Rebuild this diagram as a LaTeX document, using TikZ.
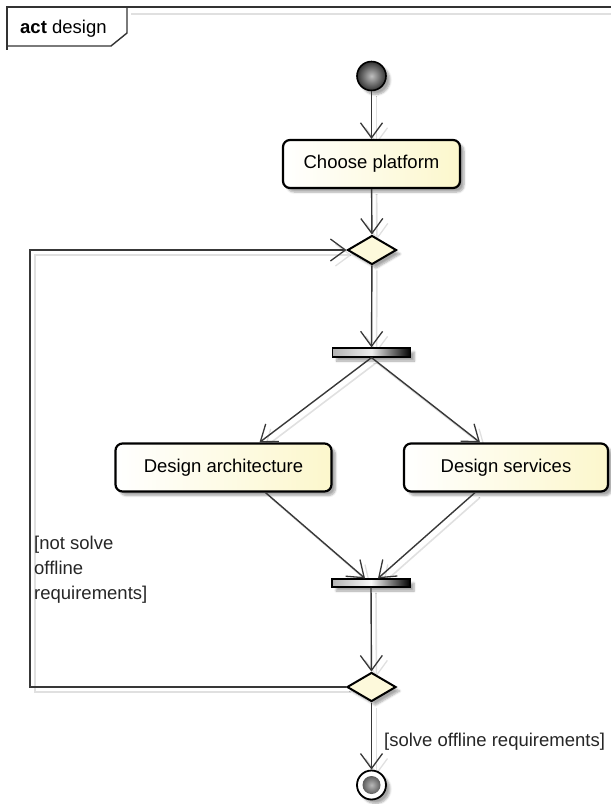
\documentclass[tikz,border=0pt]{standalone}
\usepackage{fontspec}
\setmainfont{Liberation Sans}
\usetikzlibrary{arrows.meta,shapes.geometric,shadows.blur,calc,backgrounds}
\definecolor{actfill}{HTML}{FCF7CC}
\definecolor{edgegray}{HTML}{383838}
\newcommand{\umlfont}{\fontsize{18.5}{25}\selectfont}
\begin{document}
\begin{tikzpicture}[x=1pt,y=-1pt,
  softshadow/.style={blur shadow={shadow xshift=4pt,shadow yshift=-4pt,shadow opacity=35,shadow blur steps=6}},
  action/.style={rectangle,rounded corners=7pt,draw=black,line width=2.2pt,
    left color=white,right color=actfill,minimum height=48pt,
    font=\umlfont,softshadow},
  decision/.style={diamond,draw=black,line width=2pt,fill=actfill!70,
    minimum width=49pt,minimum height=29pt,inner sep=0pt,softshadow},
  syncbar/.style={rectangle,draw=black,line width=1.2pt,inner sep=0pt,
    minimum width=78pt,minimum height=9pt,
    left color=gray!60,right color=black,middle color=gray!15,softshadow},
  initial/.style={circle,draw=black,line width=1.6pt,minimum size=29pt,inner sep=0pt,
    shading=radial,inner color=gray!50,outer color=black!80,softshadow},
  final/.style={circle,draw=black,line width=1.8pt,minimum size=29pt,inner sep=0pt,
    fill=white,softshadow,
    path picture={\shade[inner color=gray!55,outer color=black!85]
      (path picture bounding box.center) circle (9pt);}},
  tip/.tip={Straight Barb[length=15pt,width=22pt,line width=1.3pt]},
  flow/.style={draw=edgegray,line width=1.4pt,-tip},
  edgeshadow/.style={draw=black!12,line width=1.6pt,-tip,
    transform canvas={xshift=5pt,yshift=-5pt}},
  guard/.style={font=\umlfont,text=black!85,inner sep=0pt}
]
\useasboundingbox (0,0) rectangle (611,804);

% diagram frame with its name tab
\draw[black!12,line width=1.5pt] (131,14) -- (611,14);
\draw[black!80,line width=1.4pt] (611,7) -- (7,7) -- (7,50);
\draw[black!80,line width=1.4pt] (127,7) -- (127,33) -- (111,46) -- (7,46);
\node[anchor=west,font=\umlfont,inner sep=0pt] (title) at (20,29) {\textbf{act} design};

% activity nodes
\node[initial] (start) at (371.5,76) {};
\node[action,minimum width=177pt] (choose) at (371.5,164) {Choose platform};
\node[decision] (d1) at (372,250) {};
\node[syncbar] (fork) at (371.5,352.5) {};
\node[action,minimum width=216pt] (arch) at (223.5,467.5) {Design architecture};
\node[action,minimum width=204pt] (serv) at (506,467.5) {Design services};
\node[syncbar,minimum height=8pt,middle color=gray!5] (join) at (371,583) {};
\node[decision] (d2) at (371.5,687) {};
\node[final] (end) at (371.5,785) {};
\coordinate (loopx) at (30,0);

% faint shadows under the control flows
\begin{pgfonlayer}{background}
  \draw[edgeshadow] (start) -- (choose);
  \draw[edgeshadow] (choose) -- (d1);
  \draw[edgeshadow] (d1) -- (fork);
  \draw[edgeshadow] (fork.south) -- ($(arch.north)+(36,0)$);
  \draw[edgeshadow] (fork.south) -- ($(serv.north)+(-26,0)$);
  \draw[edgeshadow] ($(arch.south)+(42,0)$) -- ($(join.north)+(-6,0)$);
  \draw[edgeshadow] ($(serv.south)+(-31,0)$) -- ($(join.north)+(7,0)$);
  \draw[edgeshadow] (join) -- (d2);
  \draw[edgeshadow] (d2) -- (end);
  \draw[edgeshadow] (d2.west) -- (loopx |- d2.west) -- (loopx |- d1.west) -- (d1.west);
\end{pgfonlayer}

% control flows
\draw[flow] (start) -- (choose);
\draw[flow] (choose) -- (d1);
\draw[flow] (d1) -- (fork);
\draw[flow] (fork.south) -- ($(arch.north)+(36,0)$);
\draw[flow] (fork.south) -- ($(serv.north)+(-26,0)$);
\draw[flow] ($(arch.south)+(42,0)$) -- ($(join.north)+(-6,0)$);
\draw[flow] ($(serv.south)+(-31,0)$) -- ($(join.north)+(7,0)$);
\draw[flow] (join) -- (d2);
\draw[flow] (d2) -- (end);
\draw[flow] (d2.west) -- (loopx |- d2.west) -- (loopx |- d1.west) -- (d1.west);

% guards
\node[guard,anchor=north west,align=left] (notsolve) at (34,536)
  {[not solve\\offline\\requirements]};
\node[guard,anchor=west] (solve) at (384,742) {[solve offline requirements]};
\end{tikzpicture}
\end{document}
